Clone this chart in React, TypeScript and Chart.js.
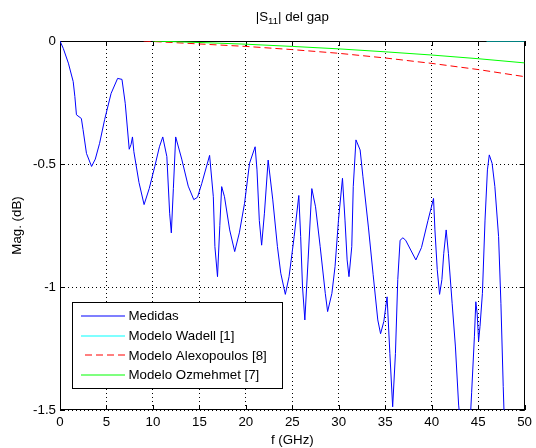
import React, { useEffect, useRef } from "react";
import { Chart, registerables } from "chart.js";

Chart.register(...registerables);

// Medidas (measured) |S11| in dB vs frequency in GHz
const medidasFreq = [
  0, 0.35, 0.9, 1.42, 1.6, 1.77, 2.3, 2.48, 2.85, 3.4, 3.8, 4.26, 4.8, 5.5, 6.2, 6.67, 7.02,
  7.45, 7.65, 7.8, 7.95, 8.5, 9.05, 9.6, 10.2, 10.7, 11.06, 11.5, 11.8, 11.98, 12.2, 12.45,
  13.1, 13.8, 14.4, 14.8, 15.25, 16.1, 16.5, 16.67, 16.95, 17.2, 17.4, 17.7, 18.26, 18.8,
  19.3, 19.86, 20.4, 21.0, 21.2, 21.45, 21.7, 22.0, 22.4, 22.9, 23.4, 23.76, 24.25, 24.65,
  25.2, 25.7, 25.9, 26.1, 26.35, 26.7, 27.1, 27.5, 28.0, 28.55, 28.8, 29.26, 29.6, 29.97,
  30.4, 30.67, 30.9, 31.1, 31.4, 31.56, 31.85, 32.3, 32.6, 33.2, 33.7, 34.2, 34.5, 34.85,
  35.2, 35.5, 35.8, 36.1, 36.35, 36.6, 36.9, 37.2, 38.3, 38.9, 39.6, 40.2, 40.35, 40.6,
  40.85, 41.1, 41.3, 41.56, 41.8, 42.2, 42.55, 42.9, 43.5, 44.0, 44.3, 44.6, 44.75, 44.9,
  45.05, 45.2, 45.46, 45.74, 46.0, 46.2, 46.5, 46.8, 47.2, 47.45, 47.7, 47.9, 48.5, 50,
];
const medidasMag = [
  0, -0.03, -0.09, -0.165, -0.226, -0.3, -0.315, -0.36, -0.457, -0.51, -0.48, -0.416, -0.32,
  -0.213, -0.152, -0.156, -0.253, -0.44, -0.42, -0.39, -0.45, -0.575, -0.665, -0.6, -0.51,
  -0.43, -0.39, -0.47, -0.7, -0.78, -0.6, -0.39, -0.48, -0.59, -0.645, -0.635, -0.58, -0.465,
  -0.633, -0.836, -0.958, -0.75, -0.592, -0.633, -0.768, -0.856, -0.78, -0.66, -0.497, -0.43,
  -0.524, -0.73, -0.83, -0.7, -0.484, -0.646, -0.836, -0.944, -1.03, -0.958, -0.795, -0.628,
  -0.795, -1.0, -1.134, -0.89, -0.6, -0.674, -0.836, -1.026, -1.1, -1.026, -0.917, -0.728,
  -0.558, -0.728, -0.89, -0.958, -0.836, -0.592, -0.402, -0.443, -0.552, -0.76, -0.95,
  -1.134, -1.19, -1.14, -1.04, -1.27, -1.487, -1.27, -0.97, -0.81, -0.8, -0.81, -0.89,
  -0.84, -0.73, -0.64, -0.768, -0.93, -1.03, -0.97, -0.863, -0.768, -0.863, -1.066, -1.24,
  -1.48, -1.7, -1.65, -1.43, -1.2, -1.06, -1.11, -1.22, -1.16, -1.026, -0.728, -0.524,
  -0.463, -0.497, -0.592, -0.795, -1.066, -1.405, -1.65, -1.9, -2.0,
];

// Modelo Wadell [1]
const wadellFreq = [45.9, 50];
const wadellMag = [0, 0];

// Modelo Alexopoulos [8]
const alexFreq = [9, 15, 20, 25, 30, 35, 40, 45, 50];
const alexMag = [0, -0.012, -0.022, -0.035, -0.05, -0.069, -0.091, -0.116, -0.145];

// Modelo Ozmehmet [7]
const ozFreq = [10, 15, 20, 25, 30, 35, 40, 45, 50];
const ozMag = [0, -0.006, -0.013, -0.022, -0.032, -0.044, -0.057, -0.072, -0.089];

const xTicks = [0, 5, 10, 15, 20, 25, 30, 35, 40, 45, 50];
const yTicks = [0, -0.5, -1, -1.5];

const seriesNames = ["Medidas", "Modelo Wadell [1]", "Modelo Alexopoulos [8]", "Modelo Ozmehmet [7]"];
const seriesColors = ["rgb(0,0,255)", "rgb(0,255,255)", "rgb(255,0,0)", "rgb(0,255,0)"];
const seriesDash: number[][] = [[], [], [7, 4], []];

const FONT = "'Liberation Sans', Arial, Helvetica, sans-serif";
const FS = 13.3;

const toPoints = (xs: number[], ys: number[]) => xs.map((x, i) => ({ x, y: ys[i] }));

const framePlugin = {
  id: "frame",
  beforeDatasetsDraw(chart: any) {
    const { ctx, chartArea, scales } = chart;
    const { left, top, right, bottom } = chartArea;
    ctx.save();
    ctx.strokeStyle = "#000";
    ctx.lineWidth = 1;
    ctx.setLineDash([]);
    ctx.strokeRect(Math.round(left) + 0.5, Math.round(top) + 0.5, Math.round(right - left) - 1, Math.round(bottom - top) - 1);
    const tl = 5;
    ctx.beginPath();
    xTicks.forEach((v) => {
      const px = Math.round(scales.x.getPixelForValue(v)) + 0.5;
      ctx.moveTo(px, bottom);
      ctx.lineTo(px, bottom - tl);
      ctx.moveTo(px, top);
      ctx.lineTo(px, top + tl);
    });
    yTicks.forEach((v) => {
      const py = Math.round(scales.y.getPixelForValue(v)) + 0.5;
      ctx.moveTo(left, py);
      ctx.lineTo(left + tl, py);
      ctx.moveTo(right, py);
      ctx.lineTo(right - tl, py);
    });
    ctx.stroke();
    ctx.restore();
  },
};

const legendPlugin = {
  id: "boxLegend",
  afterDatasetsDraw(chart: any) {
    const { ctx, chartArea } = chart;
    const x0 = Math.round(chartArea.left + 12) + 0.5;
    const y0 = Math.round(chartArea.bottom - 108) + 0.5;
    const w = 210;
    const h = 86;
    ctx.save();
    ctx.fillStyle = "#fff";
    ctx.fillRect(x0, y0, w, h);
    ctx.strokeStyle = "#000";
    ctx.lineWidth = 1;
    ctx.setLineDash([]);
    ctx.strokeRect(x0, y0, w, h);
    ctx.font = `${FS}px ${FONT}`;
    ctx.textBaseline = "middle";
    ctx.textAlign = "left";
    for (let i = 0; i < seriesNames.length; i++) {
      const ry = y0 + 13.5 + i * 19.7;
      const ly = Math.round(ry);
      ctx.save();
      ctx.lineWidth = 1.2;
      ctx.strokeStyle = seriesColors[i];
      ctx.setLineDash(seriesDash[i]);
      ctx.lineDashOffset = seriesDash[i].length ? -4 : 0;
      ctx.beginPath();
      ctx.moveTo(x0 + 8.5, ly);
      ctx.lineTo(x0 + 52.5, ly);
      ctx.stroke();
      ctx.restore();
      ctx.fillStyle = "#000";
      ctx.fillText(seriesNames[i], x0 + 56, ry + 0.5);
    }
    ctx.restore();
  },
};

const titlePlugin = {
  id: "subTitle",
  afterDraw(chart: any) {
    const { ctx, chartArea } = chart;
    const cx = (chartArea.left + chartArea.right) / 2;
    const cy = 17;
    const p1 = "|S";
    const p2 = "11";
    const p3 = "| del gap";
    const mainFont = `${FS}px ${FONT}`;
    const subFont = `${FS * 0.72}px ${FONT}`;
    ctx.save();
    ctx.fillStyle = "#000";
    ctx.textBaseline = "middle";
    ctx.textAlign = "left";
    ctx.font = mainFont;
    const w1 = ctx.measureText(p1).width;
    const w3 = ctx.measureText(p3).width;
    ctx.font = subFont;
    const w2 = ctx.measureText(p2).width;
    let x = cx - (w1 + w2 + w3) / 2;
    ctx.font = mainFont;
    ctx.fillText(p1, x, cy);
    x += w1;
    ctx.font = subFont;
    ctx.fillText(p2, x, cy + 4);
    x += w2;
    ctx.font = mainFont;
    ctx.fillText(p3, x, cy);
    ctx.restore();
  },
};

export default function App() {
  const ref = useRef<HTMLCanvasElement | null>(null);

  useEffect(() => {
    if (!ref.current) return;
    const datasets = [
      { pts: toPoints(medidasFreq, medidasMag), order: 4 },
      { pts: toPoints(wadellFreq, wadellMag), order: 3 },
      { pts: toPoints(alexFreq, alexMag), order: 2 },
      { pts: toPoints(ozFreq, ozMag), order: 1 },
    ].map((d, i) => ({
      label: seriesNames[i],
      data: d.pts,
      borderColor: seriesColors[i],
      backgroundColor: seriesColors[i],
      borderWidth: 1,
      borderDash: seriesDash[i],
      pointRadius: 0,
      tension: 0,
      fill: false,
      order: d.order,
    }));

    const chart = new Chart(ref.current, {
      type: "line",
      data: { datasets },
      options: {
        animation: false,
        responsive: false,
        maintainAspectRatio: false,
        devicePixelRatio: 1,
        layout: { padding: { top: 41, right: 6, left: 0, bottom: 0 } },
        plugins: {
          legend: { display: false },
          title: { display: false },
          tooltip: { enabled: false },
        },
        scales: {
          x: {
            type: "linear",
            min: 0,
            max: 50,
            afterBuildTicks: (scale: any) => {
              scale.ticks = xTicks.map((v) => ({ value: v }));
            },
            afterFit: (scale: any) => {
              scale.height = 38;
            },
            ticks: {
              color: "#000",
              font: { family: FONT, size: FS },
              padding: 4,
              maxRotation: 0,
              autoSkip: false,
              callback: (v: any) => String(v),
            },
            grid: { color: "#000", lineWidth: 1, drawTicks: false },
            border: { display: false, dash: [1, 3] },
            title: {
              display: true,
              text: "f (GHz)",
              color: "#000",
              font: { family: FONT, size: FS },
              padding: { top: 0, bottom: 0 },
            },
          },
          y: {
            type: "linear",
            min: -1.5,
            max: 0,
            afterBuildTicks: (scale: any) => {
              scale.ticks = yTicks.map((v) => ({ value: v }));
            },
            afterFit: (scale: any) => {
              scale.width = 60;
            },
            ticks: {
              color: "#000",
              font: { family: FONT, size: FS },
              padding: 4,
              autoSkip: false,
              callback: (v: any) => String(v),
            },
            grid: { color: "#000", lineWidth: 1, drawTicks: false },
            border: { display: false, dash: [1, 3] },
            title: {
              display: true,
              text: "Mag. (dB)",
              color: "#000",
              font: { family: FONT, size: FS },
              padding: { top: 9, bottom: 0 },
            },
          },
        },
      },
      plugins: [framePlugin, legendPlugin, titlePlugin],
    });
    return () => chart.destroy();
  }, []);

  return (
    <div style={{ position: "absolute", left: 0, top: 0, width: 536, height: 448, background: "#fff" }}>
      <canvas ref={ref} width={536} height={448} style={{ display: "block", width: 536, height: 448 }} />
    </div>
  );
}
